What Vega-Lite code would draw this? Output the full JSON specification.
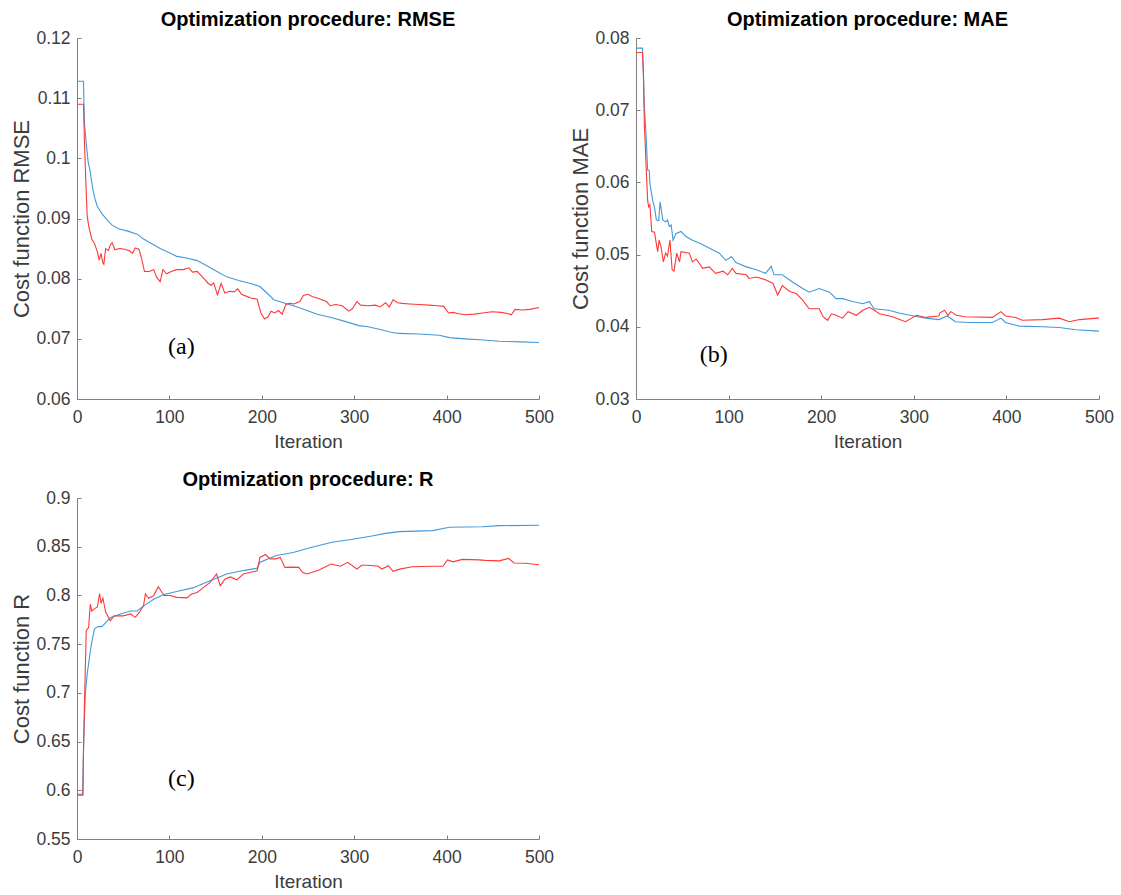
{
  "$schema": "https://vega.github.io/schema/vega-lite/v6.json",
  "background": "white",
  "padding": {"left": 10, "top": 10, "right": 10, "bottom": 5},
  "columns": 2,
  "spacing": {"row": 99, "column": 97},
  "bounds": "flush",
  "config": {
    "view": {"stroke": null},
    "font": "Liberation Sans",
    "axis": {"domainColor": "#808080", "tickColor": "#808080", "labelColor": "#3c3c3c", "titleColor": "#3c3c3c", "labelFontSize": 17.5, "titleFontSize": 19, "titleFontWeight": "normal", "grid": false, "tickSize": -4, "labelFont": "Liberation Sans", "titleFont": "Liberation Sans", "labelFlush": false},
    "axisY": {"labelPadding": 11, "titlePadding": 2, "titleFontSize": 22},
    "axisX": {"labelPadding": 13, "titlePadding": 7},
    "title": {"fontSize": 20, "fontWeight": "bold", "font": "Liberation Sans", "color": "#000000", "offset": -1}
  },
  "datasets": {
    "a": [
      {"it":0,"v":0.1128,"s":"s1"},{"it":7,"v":0.1128,"s":"s1"},{"it":8,"v":0.106,"s":"s1"},{"it":10,"v":0.1025,"s":"s1"},{"it":12,"v":0.0995,"s":"s1"},{"it":14,"v":0.098,"s":"s1"},{"it":17,"v":0.095,"s":"s1"},{"it":19,"v":0.0935,"s":"s1"},{"it":22,"v":0.092,"s":"s1"},{"it":27,"v":0.0908,"s":"s1"},{"it":33,"v":0.0897,"s":"s1"},{"it":38,"v":0.0889,"s":"s1"},{"it":45,"v":0.0883,"s":"s1"},{"it":55,"v":0.0879,"s":"s1"},{"it":65,"v":0.0874,"s":"s1"},{"it":72,"v":0.0866,"s":"s1"},{"it":80,"v":0.0859,"s":"s1"},{"it":90,"v":0.085,"s":"s1"},{"it":100,"v":0.0843,"s":"s1"},{"it":108,"v":0.0837,"s":"s1"},{"it":120,"v":0.0834,"s":"s1"},{"it":130,"v":0.083,"s":"s1"},{"it":140,"v":0.0822,"s":"s1"},{"it":150,"v":0.0813,"s":"s1"},{"it":162,"v":0.0803,"s":"s1"},{"it":175,"v":0.0797,"s":"s1"},{"it":190,"v":0.0791,"s":"s1"},{"it":198,"v":0.0787,"s":"s1"},{"it":205,"v":0.0777,"s":"s1"},{"it":213,"v":0.0765,"s":"s1"},{"it":225,"v":0.0759,"s":"s1"},{"it":240,"v":0.0752,"s":"s1"},{"it":260,"v":0.0741,"s":"s1"},{"it":276,"v":0.0735,"s":"s1"},{"it":290,"v":0.0729,"s":"s1"},{"it":305,"v":0.0722,"s":"s1"},{"it":315,"v":0.072,"s":"s1"},{"it":327,"v":0.0716,"s":"s1"},{"it":340,"v":0.0711,"s":"s1"},{"it":348,"v":0.0709,"s":"s1"},{"it":370,"v":0.0708,"s":"s1"},{"it":392,"v":0.0706,"s":"s1"},{"it":403,"v":0.0702,"s":"s1"},{"it":420,"v":0.07,"s":"s1"},{"it":440,"v":0.0698,"s":"s1"},{"it":457,"v":0.0696,"s":"s1"},{"it":480,"v":0.0695,"s":"s1"},{"it":500,"v":0.0694,"s":"s1"},
      {"it":0,"v":0.109,"s":"s2"},{"it":7,"v":0.109,"s":"s2"},{"it":8,"v":0.103,"s":"s2"},{"it":9,"v":0.0985,"s":"s2"},{"it":11,"v":0.0904,"s":"s2"},{"it":13,"v":0.0885,"s":"s2"},{"it":16,"v":0.0866,"s":"s2"},{"it":19,"v":0.0858,"s":"s2"},{"it":22,"v":0.0845,"s":"s2"},{"it":24,"v":0.0831,"s":"s2"},{"it":26,"v":0.0842,"s":"s2"},{"it":28,"v":0.0826,"s":"s2"},{"it":29,"v":0.0824,"s":"s2"},{"it":31,"v":0.085,"s":"s2"},{"it":34,"v":0.0847,"s":"s2"},{"it":36,"v":0.0856,"s":"s2"},{"it":38,"v":0.086,"s":"s2"},{"it":41,"v":0.0848,"s":"s2"},{"it":46,"v":0.085,"s":"s2"},{"it":52,"v":0.0849,"s":"s2"},{"it":57,"v":0.0846,"s":"s2"},{"it":60,"v":0.0842,"s":"s2"},{"it":63,"v":0.0851,"s":"s2"},{"it":67,"v":0.0849,"s":"s2"},{"it":70,"v":0.0833,"s":"s2"},{"it":73,"v":0.0812,"s":"s2"},{"it":78,"v":0.0812,"s":"s2"},{"it":83,"v":0.0815,"s":"s2"},{"it":86,"v":0.0803,"s":"s2"},{"it":90,"v":0.0795,"s":"s2"},{"it":93,"v":0.0815,"s":"s2"},{"it":97,"v":0.0808,"s":"s2"},{"it":102,"v":0.0812,"s":"s2"},{"it":108,"v":0.0815,"s":"s2"},{"it":115,"v":0.0815,"s":"s2"},{"it":121,"v":0.0818,"s":"s2"},{"it":125,"v":0.0811,"s":"s2"},{"it":130,"v":0.0812,"s":"s2"},{"it":137,"v":0.0801,"s":"s2"},{"it":142,"v":0.0792,"s":"s2"},{"it":145,"v":0.0789,"s":"s2"},{"it":148,"v":0.0793,"s":"s2"},{"it":152,"v":0.0773,"s":"s2"},{"it":156,"v":0.0792,"s":"s2"},{"it":160,"v":0.0776,"s":"s2"},{"it":165,"v":0.0779,"s":"s2"},{"it":170,"v":0.0778,"s":"s2"},{"it":174,"v":0.0783,"s":"s2"},{"it":178,"v":0.0774,"s":"s2"},{"it":183,"v":0.0771,"s":"s2"},{"it":188,"v":0.0768,"s":"s2"},{"it":195,"v":0.0766,"s":"s2"},{"it":199,"v":0.0743,"s":"s2"},{"it":203,"v":0.0733,"s":"s2"},{"it":207,"v":0.0737,"s":"s2"},{"it":210,"v":0.0746,"s":"s2"},{"it":214,"v":0.0743,"s":"s2"},{"it":218,"v":0.0747,"s":"s2"},{"it":222,"v":0.0741,"s":"s2"},{"it":226,"v":0.0757,"s":"s2"},{"it":230,"v":0.0759,"s":"s2"},{"it":235,"v":0.0758,"s":"s2"},{"it":241,"v":0.0762,"s":"s2"},{"it":245,"v":0.0772,"s":"s2"},{"it":250,"v":0.0774,"s":"s2"},{"it":255,"v":0.077,"s":"s2"},{"it":260,"v":0.0768,"s":"s2"},{"it":265,"v":0.0765,"s":"s2"},{"it":270,"v":0.0762,"s":"s2"},{"it":274,"v":0.0755,"s":"s2"},{"it":280,"v":0.0757,"s":"s2"},{"it":287,"v":0.0755,"s":"s2"},{"it":294,"v":0.0746,"s":"s2"},{"it":298,"v":0.075,"s":"s2"},{"it":303,"v":0.0762,"s":"s2"},{"it":307,"v":0.0756,"s":"s2"},{"it":315,"v":0.0755,"s":"s2"},{"it":323,"v":0.0756,"s":"s2"},{"it":328,"v":0.0753,"s":"s2"},{"it":334,"v":0.076,"s":"s2"},{"it":338,"v":0.0753,"s":"s2"},{"it":342,"v":0.0765,"s":"s2"},{"it":347,"v":0.076,"s":"s2"},{"it":352,"v":0.0759,"s":"s2"},{"it":360,"v":0.0758,"s":"s2"},{"it":370,"v":0.0757,"s":"s2"},{"it":381,"v":0.0756,"s":"s2"},{"it":390,"v":0.0755,"s":"s2"},{"it":397,"v":0.0754,"s":"s2"},{"it":402,"v":0.0743,"s":"s2"},{"it":407,"v":0.0744,"s":"s2"},{"it":412,"v":0.0742,"s":"s2"},{"it":420,"v":0.074,"s":"s2"},{"it":430,"v":0.0741,"s":"s2"},{"it":439,"v":0.0743,"s":"s2"},{"it":449,"v":0.0745,"s":"s2"},{"it":459,"v":0.0744,"s":"s2"},{"it":466,"v":0.0742,"s":"s2"},{"it":470,"v":0.074,"s":"s2"},{"it":474,"v":0.0749,"s":"s2"},{"it":482,"v":0.0748,"s":"s2"},{"it":490,"v":0.0749,"s":"s2"},{"it":500,"v":0.0752,"s":"s2"}
    ],
    "b": [
      {"it":0,"v":0.0786,"s":"s1"},{"it":7,"v":0.0786,"s":"s1"},{"it":8,"v":0.0751,"s":"s1"},{"it":9,"v":0.0705,"s":"s1"},{"it":10.8,"v":0.0668,"s":"s1"},{"it":12.6,"v":0.0617,"s":"s1"},{"it":14.4,"v":0.0616,"s":"s1"},{"it":15,"v":0.0599,"s":"s1"},{"it":18,"v":0.0575,"s":"s1"},{"it":20,"v":0.0565,"s":"s1"},{"it":22,"v":0.0548,"s":"s1"},{"it":24.5,"v":0.0547,"s":"s1"},{"it":26,"v":0.0573,"s":"s1"},{"it":29,"v":0.0548,"s":"s1"},{"it":32,"v":0.0545,"s":"s1"},{"it":34,"v":0.0548,"s":"s1"},{"it":36,"v":0.0539,"s":"s1"},{"it":38,"v":0.0541,"s":"s1"},{"it":40,"v":0.052,"s":"s1"},{"it":43,"v":0.0529,"s":"s1"},{"it":48.6,"v":0.0532,"s":"s1"},{"it":54,"v":0.0525,"s":"s1"},{"it":61,"v":0.052,"s":"s1"},{"it":70,"v":0.0515,"s":"s1"},{"it":79,"v":0.0509,"s":"s1"},{"it":90,"v":0.0502,"s":"s1"},{"it":97,"v":0.0492,"s":"s1"},{"it":103,"v":0.0497,"s":"s1"},{"it":108,"v":0.0489,"s":"s1"},{"it":119,"v":0.0483,"s":"s1"},{"it":130,"v":0.0479,"s":"s1"},{"it":140,"v":0.0474,"s":"s1"},{"it":146,"v":0.0484,"s":"s1"},{"it":149,"v":0.0472,"s":"s1"},{"it":158,"v":0.0472,"s":"s1"},{"it":169,"v":0.0462,"s":"s1"},{"it":180,"v":0.0453,"s":"s1"},{"it":187,"v":0.0448,"s":"s1"},{"it":198,"v":0.0453,"s":"s1"},{"it":209,"v":0.0448,"s":"s1"},{"it":216,"v":0.0439,"s":"s1"},{"it":223,"v":0.0439,"s":"s1"},{"it":234,"v":0.0435,"s":"s1"},{"it":245,"v":0.0432,"s":"s1"},{"it":252,"v":0.0435,"s":"s1"},{"it":257,"v":0.0425,"s":"s1"},{"it":273,"v":0.0423,"s":"s1"},{"it":284,"v":0.0419,"s":"s1"},{"it":300,"v":0.0415,"s":"s1"},{"it":313,"v":0.0412,"s":"s1"},{"it":327,"v":0.041,"s":"s1"},{"it":336,"v":0.0415,"s":"s1"},{"it":345,"v":0.0407,"s":"s1"},{"it":360,"v":0.0406,"s":"s1"},{"it":385,"v":0.0406,"s":"s1"},{"it":394,"v":0.0412,"s":"s1"},{"it":399,"v":0.0406,"s":"s1"},{"it":414,"v":0.0401,"s":"s1"},{"it":439,"v":0.04,"s":"s1"},{"it":457,"v":0.0399,"s":"s1"},{"it":475,"v":0.0396,"s":"s1"},{"it":500,"v":0.0394,"s":"s1"},
      {"it":0,"v":0.078,"s":"s2"},{"it":7,"v":0.078,"s":"s2"},{"it":8,"v":0.0751,"s":"s2"},{"it":9,"v":0.0682,"s":"s2"},{"it":10.8,"v":0.0626,"s":"s2"},{"it":12.6,"v":0.0575,"s":"s2"},{"it":13.7,"v":0.0566,"s":"s2"},{"it":15,"v":0.0569,"s":"s2"},{"it":17,"v":0.0532,"s":"s2"},{"it":20,"v":0.0531,"s":"s2"},{"it":21.6,"v":0.0518,"s":"s2"},{"it":23.4,"v":0.0504,"s":"s2"},{"it":25,"v":0.052,"s":"s2"},{"it":27,"v":0.0511,"s":"s2"},{"it":29.5,"v":0.049,"s":"s2"},{"it":32,"v":0.0502,"s":"s2"},{"it":34,"v":0.0498,"s":"s2"},{"it":36.7,"v":0.052,"s":"s2"},{"it":39,"v":0.0479,"s":"s2"},{"it":41,"v":0.0477,"s":"s2"},{"it":44,"v":0.0502,"s":"s2"},{"it":47,"v":0.049,"s":"s2"},{"it":48.6,"v":0.0504,"s":"s2"},{"it":57.6,"v":0.0502,"s":"s2"},{"it":61,"v":0.049,"s":"s2"},{"it":65,"v":0.0494,"s":"s2"},{"it":72,"v":0.0481,"s":"s2"},{"it":79,"v":0.0483,"s":"s2"},{"it":86,"v":0.0474,"s":"s2"},{"it":94,"v":0.0477,"s":"s2"},{"it":99,"v":0.0472,"s":"s2"},{"it":104,"v":0.0481,"s":"s2"},{"it":108,"v":0.0474,"s":"s2"},{"it":119,"v":0.0472,"s":"s2"},{"it":122,"v":0.0467,"s":"s2"},{"it":130,"v":0.0469,"s":"s2"},{"it":140,"v":0.0465,"s":"s2"},{"it":148,"v":0.046,"s":"s2"},{"it":153,"v":0.0444,"s":"s2"},{"it":158,"v":0.0457,"s":"s2"},{"it":166,"v":0.0449,"s":"s2"},{"it":173,"v":0.0446,"s":"s2"},{"it":180,"v":0.0437,"s":"s2"},{"it":187,"v":0.0425,"s":"s2"},{"it":198,"v":0.0425,"s":"s2"},{"it":202,"v":0.0414,"s":"s2"},{"it":207,"v":0.0409,"s":"s2"},{"it":211,"v":0.0418,"s":"s2"},{"it":216,"v":0.0416,"s":"s2"},{"it":223,"v":0.0412,"s":"s2"},{"it":229,"v":0.0421,"s":"s2"},{"it":238,"v":0.0416,"s":"s2"},{"it":245,"v":0.0423,"s":"s2"},{"it":252,"v":0.0427,"s":"s2"},{"it":256,"v":0.0424,"s":"s2"},{"it":263,"v":0.0418,"s":"s2"},{"it":277,"v":0.0414,"s":"s2"},{"it":291,"v":0.0407,"s":"s2"},{"it":303,"v":0.0416,"s":"s2"},{"it":313,"v":0.0413,"s":"s2"},{"it":327,"v":0.0415,"s":"s2"},{"it":328,"v":0.0419,"s":"s2"},{"it":333,"v":0.0423,"s":"s2"},{"it":337,"v":0.0416,"s":"s2"},{"it":340,"v":0.0421,"s":"s2"},{"it":346,"v":0.0416,"s":"s2"},{"it":355,"v":0.0414,"s":"s2"},{"it":385,"v":0.0413,"s":"s2"},{"it":394,"v":0.0421,"s":"s2"},{"it":399,"v":0.0415,"s":"s2"},{"it":410,"v":0.0413,"s":"s2"},{"it":417,"v":0.0409,"s":"s2"},{"it":439,"v":0.041,"s":"s2"},{"it":457,"v":0.0412,"s":"s2"},{"it":468,"v":0.0407,"s":"s2"},{"it":479,"v":0.041,"s":"s2"},{"it":498,"v":0.0412,"s":"s2"},{"it":500,"v":0.0412,"s":"s2"}
    ],
    "c": [
      {"it":0,"v":0.596,"s":"s1"},{"it":6,"v":0.596,"s":"s1"},{"it":7,"v":0.64,"s":"s1"},{"it":8,"v":0.672,"s":"s1"},{"it":9,"v":0.699,"s":"s1"},{"it":11,"v":0.719,"s":"s1"},{"it":14,"v":0.74,"s":"s1"},{"it":16,"v":0.752,"s":"s1"},{"it":19,"v":0.766,"s":"s1"},{"it":23,"v":0.768,"s":"s1"},{"it":27,"v":0.768,"s":"s1"},{"it":31,"v":0.772,"s":"s1"},{"it":36,"v":0.777,"s":"s1"},{"it":47,"v":0.781,"s":"s1"},{"it":58,"v":0.784,"s":"s1"},{"it":65,"v":0.784,"s":"s1"},{"it":72,"v":0.789,"s":"s1"},{"it":83,"v":0.796,"s":"s1"},{"it":94,"v":0.801,"s":"s1"},{"it":108,"v":0.804,"s":"s1"},{"it":126,"v":0.808,"s":"s1"},{"it":144,"v":0.815,"s":"s1"},{"it":162,"v":0.822,"s":"s1"},{"it":180,"v":0.8255,"s":"s1"},{"it":195,"v":0.828,"s":"s1"},{"it":198,"v":0.834,"s":"s1"},{"it":216,"v":0.841,"s":"s1"},{"it":234,"v":0.844,"s":"s1"},{"it":252,"v":0.849,"s":"s1"},{"it":276,"v":0.8545,"s":"s1"},{"it":300,"v":0.858,"s":"s1"},{"it":319,"v":0.861,"s":"s1"},{"it":334,"v":0.8637,"s":"s1"},{"it":349,"v":0.8655,"s":"s1"},{"it":385,"v":0.8665,"s":"s1"},{"it":403,"v":0.87,"s":"s1"},{"it":439,"v":0.8705,"s":"s1"},{"it":457,"v":0.8716,"s":"s1"},{"it":500,"v":0.872,"s":"s1"},
      {"it":0,"v":0.595,"s":"s2"},{"it":6.5,"v":0.595,"s":"s2"},{"it":7,"v":0.64,"s":"s2"},{"it":8,"v":0.685,"s":"s2"},{"it":10,"v":0.764,"s":"s2"},{"it":12.6,"v":0.767,"s":"s2"},{"it":14.4,"v":0.791,"s":"s2"},{"it":16,"v":0.784,"s":"s2"},{"it":20,"v":0.787,"s":"s2"},{"it":22,"v":0.788,"s":"s2"},{"it":24.5,"v":0.802,"s":"s2"},{"it":26,"v":0.792,"s":"s2"},{"it":28,"v":0.7974,"s":"s2"},{"it":31,"v":0.783,"s":"s2"},{"it":34,"v":0.7775,"s":"s2"},{"it":36,"v":0.774,"s":"s2"},{"it":40,"v":0.779,"s":"s2"},{"it":50,"v":0.779,"s":"s2"},{"it":58,"v":0.781,"s":"s2"},{"it":63,"v":0.7775,"s":"s2"},{"it":67,"v":0.782,"s":"s2"},{"it":72,"v":0.7894,"s":"s2"},{"it":74,"v":0.8015,"s":"s2"},{"it":77.6,"v":0.797,"s":"s2"},{"it":83,"v":0.7998,"s":"s2"},{"it":88,"v":0.809,"s":"s2"},{"it":92,"v":0.803,"s":"s2"},{"it":94.5,"v":0.8,"s":"s2"},{"it":101,"v":0.8,"s":"s2"},{"it":108,"v":0.798,"s":"s2"},{"it":119,"v":0.7975,"s":"s2"},{"it":124,"v":0.8015,"s":"s2"},{"it":130,"v":0.803,"s":"s2"},{"it":137,"v":0.8083,"s":"s2"},{"it":144,"v":0.8133,"s":"s2"},{"it":151,"v":0.822,"s":"s2"},{"it":155,"v":0.81,"s":"s2"},{"it":160,"v":0.8167,"s":"s2"},{"it":166,"v":0.819,"s":"s2"},{"it":173,"v":0.816,"s":"s2"},{"it":180,"v":0.822,"s":"s2"},{"it":195,"v":0.8254,"s":"s2"},{"it":198,"v":0.839,"s":"s2"},{"it":204,"v":0.842,"s":"s2"},{"it":209,"v":0.8375,"s":"s2"},{"it":215,"v":0.8375,"s":"s2"},{"it":220,"v":0.839,"s":"s2"},{"it":225,"v":0.8288,"s":"s2"},{"it":234,"v":0.829,"s":"s2"},{"it":240,"v":0.8288,"s":"s2"},{"it":244,"v":0.8237,"s":"s2"},{"it":249,"v":0.822,"s":"s2"},{"it":262,"v":0.826,"s":"s2"},{"it":275,"v":0.8323,"s":"s2"},{"it":285,"v":0.83,"s":"s2"},{"it":293,"v":0.834,"s":"s2"},{"it":303,"v":0.8271,"s":"s2"},{"it":308,"v":0.831,"s":"s2"},{"it":315,"v":0.831,"s":"s2"},{"it":326,"v":0.83,"s":"s2"},{"it":330,"v":0.8271,"s":"s2"},{"it":337,"v":0.8305,"s":"s2"},{"it":342,"v":0.8247,"s":"s2"},{"it":349,"v":0.827,"s":"s2"},{"it":363,"v":0.8295,"s":"s2"},{"it":385,"v":0.83,"s":"s2"},{"it":396,"v":0.83,"s":"s2"},{"it":401,"v":0.8365,"s":"s2"},{"it":407,"v":0.8345,"s":"s2"},{"it":417,"v":0.837,"s":"s2"},{"it":435,"v":0.8365,"s":"s2"},{"it":442,"v":0.836,"s":"s2"},{"it":457,"v":0.8355,"s":"s2"},{"it":467,"v":0.838,"s":"s2"},{"it":473,"v":0.8333,"s":"s2"},{"it":485,"v":0.833,"s":"s2"},{"it":500,"v":0.8315,"s":"s2"}
    ]
  },
  "concat": [
    {
      "title": "Optimization procedure: RMSE",
      "width": 462, "height": 361,
      "layer": [
        {
          "data": {"name": "a"},
          "mark": {"type": "line", "strokeWidth": 1.1},
          "encoding": {
            "x": {"field": "it", "type": "quantitative", "scale": {"domain": [0, 500]}, "axis": {"values": [0, 100, 200, 300, 400, 500], "title": "Iteration"}},
            "y": {"field": "v", "type": "quantitative", "scale": {"domain": [0.06, 0.12]}, "axis": {"values": [0.06, 0.07, 0.08, 0.09, 0.1, 0.11, 0.12], "format": "~g", "title": "Cost function RMSE"}},
            "color": {"field": "s", "type": "nominal", "scale": {"domain": ["s1", "s2"], "range": ["#4299da", "#ff3838"]}, "legend": null}
          }
        },
        {
          "data": {"values": [{"label": "(a)"}]},
          "mark": {"type": "text", "font": "Liberation Serif", "fontSize": 24, "color": "#000000"},
          "encoding": {"x": {"datum": 113}, "y": {"datum": 0.0687}, "text": {"field": "label"}}
        }
      ]
    },
    {
      "title": "Optimization procedure: MAE",
      "width": 463, "height": 361,
      "layer": [
        {
          "data": {"name": "b"},
          "mark": {"type": "line", "strokeWidth": 1.1},
          "encoding": {
            "x": {"field": "it", "type": "quantitative", "scale": {"domain": [0, 500]}, "axis": {"values": [0, 100, 200, 300, 400, 500], "title": "Iteration"}},
            "y": {"field": "v", "type": "quantitative", "scale": {"domain": [0.03, 0.08]}, "axis": {"values": [0.03, 0.04, 0.05, 0.06, 0.07, 0.08], "format": "~g", "title": "Cost function MAE"}},
            "color": {"field": "s", "type": "nominal", "scale": {"domain": ["s1", "s2"], "range": ["#4299da", "#ff3838"]}, "legend": null}
          }
        },
        {
          "data": {"values": [{"label": "(b)"}]},
          "mark": {"type": "text", "font": "Liberation Serif", "fontSize": 24, "color": "#000000"},
          "encoding": {"x": {"datum": 84}, "y": {"datum": 0.0361}, "text": {"field": "label"}}
        }
      ]
    },
    {
      "title": "Optimization procedure: R",
      "width": 462, "height": 341,
      "layer": [
        {
          "data": {"name": "c"},
          "mark": {"type": "line", "strokeWidth": 1.1},
          "encoding": {
            "x": {"field": "it", "type": "quantitative", "scale": {"domain": [0, 500]}, "axis": {"values": [0, 100, 200, 300, 400, 500], "title": "Iteration"}},
            "y": {"field": "v", "type": "quantitative", "scale": {"domain": [0.55, 0.9]}, "axis": {"values": [0.55, 0.6, 0.65, 0.7, 0.75, 0.8, 0.85, 0.9], "format": "~g", "title": "Cost function R"}},
            "color": {"field": "s", "type": "nominal", "scale": {"domain": ["s1", "s2"], "range": ["#4299da", "#ff3838"]}, "legend": null}
          }
        },
        {
          "data": {"values": [{"label": "(c)"}]},
          "mark": {"type": "text", "font": "Liberation Serif", "fontSize": 24, "color": "#000000"},
          "encoding": {"x": {"datum": 113}, "y": {"datum": 0.612}, "text": {"field": "label"}}
        }
      ]
    }
  ]
}
